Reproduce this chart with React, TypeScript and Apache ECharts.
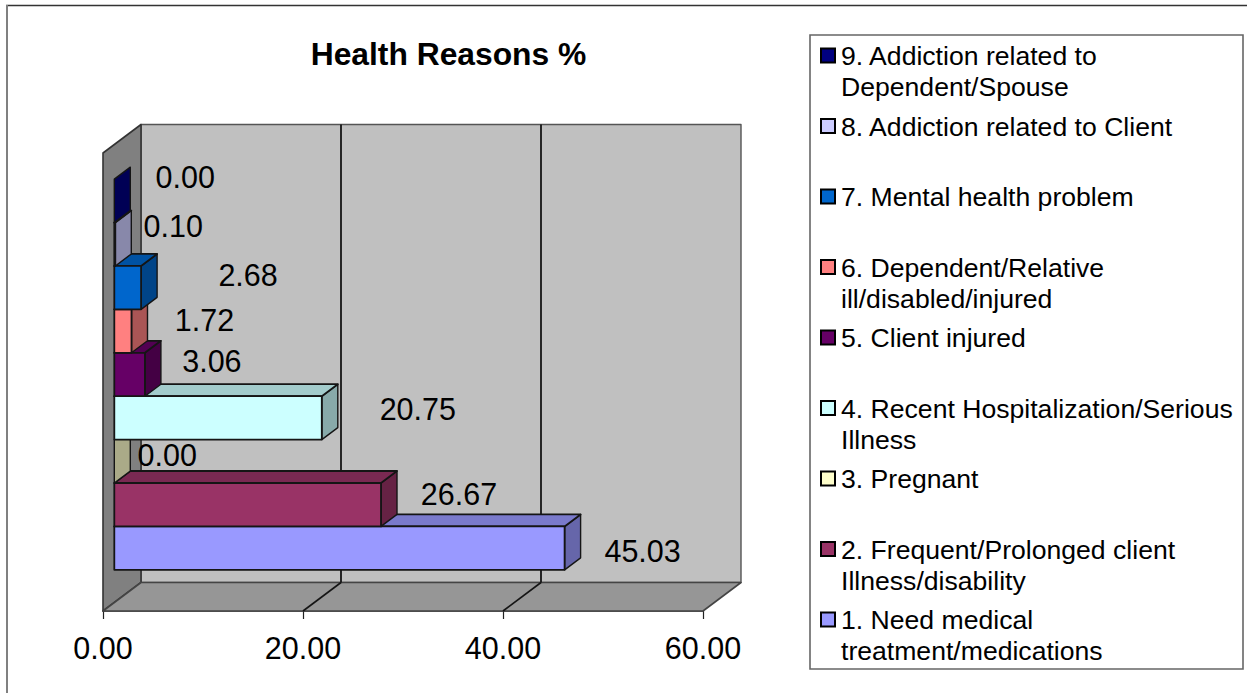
import React, { useEffect, useRef } from "react";
import * as echarts from "echarts";

const reasons = [
  "1. Need medical\ntreatment/medications",
  "2. Frequent/Prolonged client\nIllness/disability",
  "3. Pregnant",
  "4. Recent Hospitalization/Serious\nIllness",
  "5. Client injured",
  "6. Dependent/Relative\nill/disabled/injured",
  "7. Mental health problem",
  "8. Addiction related to Client",
  "9. Addiction related to\nDependent/Spouse",
];
const percents = [45.03, 26.67, 0.0, 20.75, 3.06, 1.72, 2.68, 0.1, 0.0];
const colors = ["#9999FF", "#993366", "#FFFFCC", "#CCFFFF", "#660066", "#FF8080", "#0066CC", "#CCCCFF", "#000080"];
const xTicks = [0, 20, 40, 60];
const titleText = "Health Reasons %";

// Hand-placed data label nudges (from bar end), as in the original
const labelNudgeX = [62, 62, 37, 80, 51, 57, 91, 42, 55];
const labelNudgeY = [25, 11, 15, 13, 8, 11, 9, 3, -2];

const FONT = "'Liberation Sans', Arial, sans-serif";
const DEPTH_X = 38;
const DEPTH_Y = -28.5;
const BAR_OFF_X = 11.3;
const BAR_OFF_Y = -8.6;
const BAR_D_X = 16;
const BAR_D_Y = -12;
const LINE = "#151515";

function shade(hex: string, k: number) {
  const n = parseInt(hex.slice(1), 16);
  const r = Math.round(((n >> 16) & 255) * k);
  const g = Math.round(((n >> 8) & 255) * k);
  const b = Math.round((n & 255) * k);
  return `rgb(${r},${g},${b})`;
}

function poly(points: number[][], fill: string, stroke = LINE, lineWidth = 1.8) {
  return { type: "polygon", shape: { points }, style: { fill, stroke, lineWidth, lineJoin: "round" } };
}

function frameItem(_p: any, api: any) {
  const a = api.coord([0, -0.75]);
  const b = api.coord([60, 9.8]);
  const [l, r, bot, top] = [a[0], b[0], a[1], b[1]];
  const dx = DEPTH_X;
  const dy = DEPTH_Y;
  const children: any[] = [
    poly([[l + dx, top + dy], [r + dx, top + dy], [r + dx, bot + dy], [l + dx, bot + dy]], "#C0C0C0", "#555555", 1.4),
    poly([[l, top], [l + dx, top + dy], [l + dx, bot + dy], [l, bot]], "#808080", "#333333", 1.6),
    poly([[l, bot], [l + dx, bot + dy], [r + dx, bot + dy], [r, bot]], "#969696", "#444444", 1.6),
  ];
  xTicks.slice(1, 3).forEach((t) => {
    const x = api.coord([t, 0])[0];
    children.push({ type: "line", shape: { x1: x + dx, y1: top + dy, x2: x + dx, y2: bot + dy }, style: { stroke: LINE, lineWidth: 1.8 } });
    children.push({ type: "line", shape: { x1: x, y1: bot, x2: x + dx, y2: bot + dy }, style: { stroke: LINE, lineWidth: 1.6 } });
  });
  return { type: "group", children };
}

function barItem(index: number) {
  return (_p: any, api: any) => {
    const v = api.value(0);
    const s = api.value(1);
    const p0 = api.coord([0, s]);
    const p1 = api.coord([v, s + 1]);
    const xl = p0[0] + BAR_OFF_X;
    const xr = p1[0] + BAR_OFF_X;
    const yb = p0[1] + BAR_OFF_Y;
    const yt = p1[1] + BAR_OFF_Y;
    const c = colors[index];
    const children: any[] = [];
    children.push(poly([[xr, yt], [xr + BAR_D_X, yt + BAR_D_Y], [xr + BAR_D_X, yb + BAR_D_Y], [xr, yb]], shade(c, 2 / 3), LINE, 1.4));
    if (xr - xl > 0.01) {
      children.push(poly([[xl, yt], [xl + BAR_D_X, yt + BAR_D_Y], [xr + BAR_D_X, yt + BAR_D_Y], [xr, yt]], shade(c, 0.8)));
      children.push(poly([[xl, yt], [xr, yt], [xr, yb], [xl, yb]], c));
    }
    children.push({
      type: "text",
      style: {
        text: v.toFixed(2),
        x: xr + BAR_D_X + labelNudgeX[index],
        y: yt + labelNudgeY[index],
        fill: "#000",
        fontSize: 30.5,
        fontFamily: FONT,
        align: "center",
        verticalAlign: "middle",
      },
      z2: 100,
    });
    return { type: "group", children };
  };
}

export default function App() {
  const ref = useRef<HTMLDivElement>(null);
  useEffect(() => {
    const chart = echarts.init(ref.current!, null, { renderer: "svg" });
    const legendGraphics: any[] = [];
    reasons
      .map((name, i) => ({ name, i }))
      .reverse()
      .forEach(({ name, i }, row) => {
        const cy = 55.5 + row * 70.5;
        legendGraphics.push({
          type: "rect",
          shape: { x: 821, y: cy - 7, width: 14, height: 14 },
          style: { fill: colors[i], stroke: "#000", lineWidth: 2 },
        });
        legendGraphics.push({
          type: "text",
          style: { text: name, x: 841, y: cy - 15, fill: "#000", fontSize: 26.6, lineHeight: 31, fontFamily: FONT, verticalAlign: "top", align: "left" },
        });
      });
    chart.setOption({
      animation: false,
      backgroundColor: "#fff",
      title: {
        text: titleText,
        left: 443.5,
        top: 33,
        textAlign: "center",
        textStyle: { fontFamily: FONT, fontSize: 31.8, fontWeight: "bold", color: "#000" },
      },
      grid: { left: 103, right: 544, top: 153, bottom: 82 },
      xAxis: {
        type: "value",
        min: 0,
        max: 60,
        interval: 20,
        splitLine: { show: false },
        axisLine: { show: true, onZero: false, lineStyle: { color: "#333", width: 1.6 } },
        axisTick: { show: true, length: 8, lineStyle: { color: "#222", width: 1.2 } },
        axisLabel: { formatter: (v: number) => v.toFixed(2), fontSize: 30.5, fontFamily: FONT, color: "#000", margin: 21, hideOverlap: false },
      },
      yAxis: { type: "value", min: -0.75, max: 9.8, show: false },
      graphic: [
        { type: "line", shape: { x1: 6, y1: 5.5, x2: 1247, y2: 5.5 }, style: { stroke: "#333", lineWidth: 1.5 } },
        { type: "line", shape: { x1: 7, y1: 5, x2: 7, y2: 693 }, style: { stroke: "#808080", lineWidth: 2 } },
        { type: "rect", shape: { x: 810, y: 35, width: 433, height: 634 }, style: { fill: "#fff", stroke: "#666", lineWidth: 1.6 } },
        ...legendGraphics,
      ],
      series: [
        { type: "custom", name: "frame", silent: true, renderItem: frameItem, data: [[0, 0]], encode: { x: 0, y: 1 } },
        ...percents.map((v, i) => ({
          type: "custom",
          name: reasons[i].replace("\n", " "),
          renderItem: barItem(i),
          data: [[v, i]],
          encode: { x: 0, y: 1 },
        })),
      ],
    });
    return () => chart.dispose();
  }, []);
  return <div ref={ref} style={{ position: "fixed", left: 0, top: 0, width: 1247, height: 693 }} />;
}
